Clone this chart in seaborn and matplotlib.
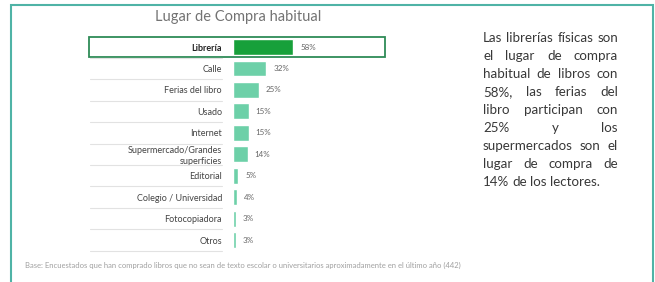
import matplotlib
matplotlib.use("Agg")
import matplotlib.pyplot as plt
import seaborn as sns
from matplotlib.patches import Rectangle

# datos
lugares = ["Librería", "Calle", "Ferias del libro", "Usado", "Internet",
           "Supermercado/Grandes\nsuperficies", "Editorial", "Colegio / Universidad",
           "Fotocopiadora", "Otros"]
porcentajes = [58, 32, 25, 15, 15, 14, 5, 4, 3, 3]
titulo = "Lugar de Compra habitual"
nota = ("Base: Encuestados que han comprado libros que no sean de texto escolar o "
        "universitarios aproximadamente en el último año (442)")
texto_lineas = [
    "Las librerías físicas son",
    "el lugar de compra",
    "habitual de libros con",
    "58%, las ferias del",
    "libro participan con",
    "25% y los",
    "supermercados son el",
    "lugar de compra de",
    "14% de los lectores.",
]

sns.set_style("white")
plt.rcParams["font.family"] = ["Lato", "DejaVu Sans"]

W, H = 655, 282
fig = plt.figure(figsize=(W / 100, H / 100), dpi=100)

# ejes del grafico de barras (en pixeles de la figura)
ax_left, ax_right = 233, 385
row_h = 21.45
top_px = 47 - row_h / 2
bot_px = top_px + row_h * len(lugares)
ax = fig.add_axes([ax_left / W, 1 - bot_px / H, (ax_right - ax_left) / W, (bot_px - top_px) / H])

colores = ["#17a03a"] + ["#6dd0a8"] * (len(lugares) - 1)
sns.barplot(x=porcentajes, y=lugares, hue=lugares, palette=colores, orient="h",
            width=0.74, legend=False, ax=ax, saturation=1)
px_per_pct = 1.04
ax.set_xlim(0, (ax_right - ax_left) / px_per_pct)
ax.set_ylim(len(lugares) - 0.5, -0.5)
ax.set_xlabel("")
ax.set_ylabel("")
ax.set_xticks([])
for s in ax.spines.values():
    s.set_visible(False)
ax.tick_params(axis="y", length=0, pad=8, labelsize=6.5, labelcolor="#444444")
for i, lab in enumerate(ax.get_yticklabels()):
    lab.set_horizontalalignment("right")
    if i == 0:
        lab.set_fontweight("bold")
        lab.set_color("#222222")

for c in ax.containers:
    ax.bar_label(c, labels=[f"{int(v)}%" for v in c.datavalues], padding=5,
                 fontsize=5.8, color="#666666")

# lineas separadoras
x0 = (90 - ax_left) / (ax_right - ax_left)
x1 = (222 - ax_left) / (ax_right - ax_left)
for i in range(1, len(lugares) + 1):
    ax.axhline(i - 0.5, xmin=x0, xmax=x1, color="#e2e2e2", lw=0.8, clip_on=False)

# recuadro de la fila destacada
bx = (89 - ax_left) / px_per_pct
ax.add_patch(Rectangle((bx, -0.46), ax.get_xlim()[1] - bx, 0.92, fill=False,
                       edgecolor="#2e8b57", lw=1.3, clip_on=False))

fig.text(238 / W, 1 - 17 / H, titulo, ha="center", va="center", fontsize=10.5,
         color="#737373")
fig.text(25 / W, 1 - 265 / H, nota, ha="left", va="center", fontsize=5.5, color="#a0a0a0")

# texto justificado a la derecha
fig.canvas.draw()
rend = fig.canvas.get_renderer()
tx0, tx1 = 483, 618
lh = 18
for k, linea in enumerate(texto_lineas):
    y = 1 - (38 + k * lh) / H
    palabras = linea.split(" ")
    objs = [fig.text(0, y, p, ha="left", va="center", fontsize=9.6, color="#383838")
            for p in palabras]
    anchos = [o.get_window_extent(rend).width for o in objs]
    if k == len(texto_lineas) - 1 or len(palabras) == 1:
        esp = 3.2
    else:
        esp = (tx1 - tx0 - sum(anchos)) / (len(palabras) - 1)
    x = tx0
    for o, a in zip(objs, anchos):
        o.set_x(x / W)
        x += a + esp

# borde exterior
fig.add_artist(Rectangle((11 / W, -0.05), (653 - 11) / W, 1.05 - 5 / H,
                         transform=fig.transFigure, fill=False,
                         edgecolor="#4fb3a6", lw=1.5))

fig.savefig("out.png", dpi=100)
